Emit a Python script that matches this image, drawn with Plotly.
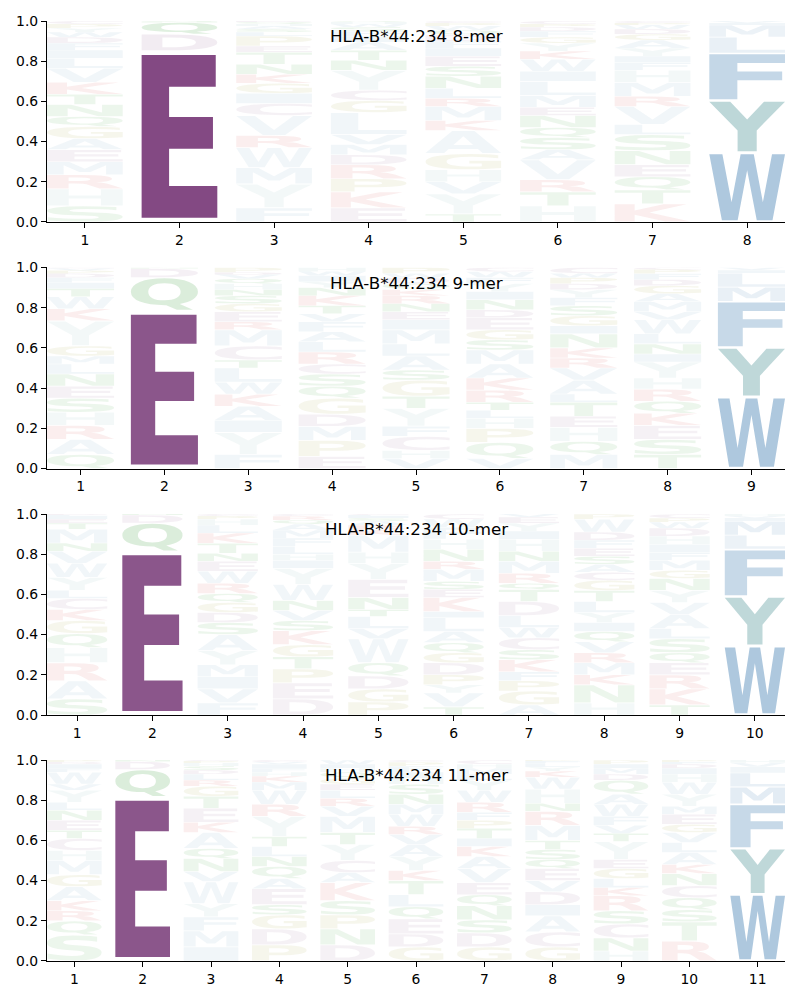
import glob, struct, subprocess
import plotly.graph_objects as go

# ---------------- data ----------------
ALLELE = "HLA-B*44:234"
LENGTHS = [8, 9, 10, 11]

# letters of each position, stacked bottom -> top, with their probabilities
LETTERS_8 = ["SHRMEAGQNTKVLIFDWYPC", "EDQNS", "FYMWRVCIGKNTEPLSAHQD", "EKPRDMVLGCYNTAIFSWHQ",
             "TYVHGAKMRLNSEIFDQWPC", "HTRVASQNEMLIWKYGFDPC", "KTQENSLVRMHFIYAGDWPC", "WYFLMIV"]
HEIGHTS_8 = [
    [.08, .085, .07, .065, .06, .055, .06, .05, .06, .05, .06, .07, .05, .04, .035, .03, .025, .02, .02, .015],
    [.852, .083, .058, .004, .003],
    [.07, .12, .08, .10, .06, .10, .06, .05, .05, .045, .05, .06, .03, .05, .02, .015, .015, .01, .01, .005],
    [.07, .08, .065, .07, .05, .05, .05, .11, .06, .05, .10, .05, .05, .04, .03, .025, .02, .015, .01, .005],
    [.04, .10, .06, .06, .08, .115, .05, .07, .04, .05, .06, .05, .05, .04, .035, .03, .025, .02, .015, .01],
    [.08, .07, .06, .10, .05, .06, .05, .06, .04, .06, .07, .05, .06, .04, .04, .03, .03, .02, .015, .015],
    [.09, .07, .065, .06, .07, .08, .05, .09, .05, .07, .06, .04, .03, .04, .04, .03, .025, .02, .01, .01],
    [.345, .26, .235, .08, .06, .01, .01],
]

LETTERS_9 = ["QARHSENLMGYKWTIFDPVC", "EQDN", "FYIAKWLTCMREGSNHQVDP", "EPMDGQSCRLAFVTKNYIWH",
             "VHCFYTGSALMIENRKQDWP", "VQPHLTRKAMSGEDNIYFWC", "MQHETLAVRKNIGSFYDPWC",
             "TSEKQRHYINLWVMAGDFPC", "WYFMLIV"]
HEIGHTS_9 = [
    [.07, .075, .07, .065, .07, .06, .06, .05, .04, .05, .125, .06, .06, .04, .03, .025, .02, .015, .01, .005],
    [.785, .165, .045, .005],
    [.07, .11, .06, .07, .06, .06, .07, .04, .07, .08, .04, .05, .04, .04, .03, .03, .025, .02, .01, .025],
    [.06, .08, .07, .06, .08, .06, .06, .05, .06, .05, .05, .05, .04, .04, .05, .04, .03, .03, .02, .02],
    [.05, .04, .07, .05, .09, .06, .08, .05, .07, .06, .07, .05, .04, .04, .04, .03, .03, .03, .02, .03],
    [.05, .08, .07, .05, .04, .04, .06, .06, .07, .07, .05, .05, .06, .04, .05, .04, .04, .03, .03, .02],
    [.07, .065, .07, .055, .07, .04, .07, .06, .05, .05, .07, .04, .05, .05, .04, .04, .03, .03, .02, .03],
    [.07, .075, .07, .06, .06, .06, .055, .08, .04, .05, .05, .07, .04, .05, .04, .04, .03, .03, .02, .01],
    [.357, .245, .23, .07, .07, .015, .013],
]

LETTERS_10 = ["SARHQGKCLYWVNMTEIFD", "EQDN", "FVIMYASDGQRWENTKLHPC", "DEPTGKSVNWYIHLFMAQRC",
              "PGDQWVLTNEYHMKRASIFC", "TVYPDGQALIKESMRNHFWC", "AGPFKSCWLDTQRMNHIYEV",
              "HNKMRVQIYLTGCASEFDWP", "TKREQSLAVYNGMFIHDWPC", "WYFLMIVH"]
HEIGHTS_10 = [
    [.08, .09, .09, .075, .07, .065, .055, .055, .04, .065, .07, .06, .04, .07, .03, .02, .015, .005, .005],
    [.815, .14, .04, .005],
    [.06, .07, .06, .06, .07, .08, .06, .05, .05, .045, .05, .06, .05, .04, .05, .05, .04, .03, .015, .01],
    [.08, .08, .07, .06, .06, .07, .05, .05, .05, .08, .08, .04, .03, .04, .04, .04, .03, .02, .02, .01],
    [.065, .065, .065, .065, .12, .05, .06, .035, .06, .09, .08, .055, .085, .03, .02, .02, .015, .01, .005, .005],
    [.04, .07, .04, .05, .06, .05, .05, .055, .07, .03, .07, .04, .04, .06, .04, .06, .05, .06, .04, .025],
    [.05, .07, .05, .045, .06, .05, .06, .05, .06, .07, .06, .03, .05, .06, .05, .06, .04, .04, .03, .015],
    [.06, .09, .05, .06, .05, .055, .05, .045, .05, .055, .055, .05, .04, .04, .04, .04, .04, .04, .065, .025],
    [.05, .08, .07, .06, .05, .07, .05, .07, .06, .06, .06, .04, .05, .04, .04, .04, .04, .03, .02, .02],
    [.345, .245, .235, .07, .07, .015, .01, .01],
]

LETTERS_11 = ["SQRKAGMHCTENLYVWFIDP", "EQDN", "IMFYWVNQAKETGRLDSHPC", "PDGSEAQNLTYRWMKHFIVC",
              "DNPSKACYTMVRLEGQHIW", "GDEQLTKYAVRWMNSHIFPC", "GDSNQEVAKITPFRWYLMHC",
              "GCAIDVEQSTMRNHWKYLFP", "HNCSRKLGEYTVFWAQDMIP", "RTSQCNKALVGEMYWHIDFP", "WYFMLIVH"]
HEIGHTS_11 = [
    [.13, .07, .05, .05, .07, .06, .07, .05, .06, .04, .05, .05, .04, .06, .03, .06, .02, .02, .01, .01],
    [.818, .135, .04, .007],
    [.07, .08, .07, .065, .11, .05, .065, .05, .08, .05, .07, .06, .05, .03, .03, .02, .02, .015, .01, .005],
    [.08, .08, .07, .05, .08, .05, .06, .05, .05, .05, .10, .06, .07, .04, .03, .02, .02, .02, .01, .01],
    [.08, .08, .07, .07, .09, .05, .06, .08, .06, .08, .05, .04, .04, .03, .03, .03, .02, .02, .02],
    [.07, .065, .075, .06, .06, .07, .05, .07, .06, .05, .04, .06, .05, .05, .05, .03, .03, .03, .02, .01],
    [.07, .07, .065, .07, .055, .06, .07, .06, .05, .04, .05, .04, .04, .05, .06, .05, .03, .03, .02, .02],
    [.07, .075, .08, .055, .065, .055, .06, .045, .05, .045, .075, .07, .04, .07, .06, .03, .02, .02, .01, .005],
    [.05, .065, .07, .065, .075, .04, .045, .05, .045, .09, .04, .04, .045, .06, .05, .07, .03, .03, .02, .02],
    [.10, .095, .06, .06, .06, .06, .045, .06, .05, .05, .04, .05, .04, .06, .06, .04, .03, .02, .01, .01],
    [.333, .228, .22, .085, .07, .03, .02, .014],
]

LOGOS = {8: (LETTERS_8, HEIGHTS_8), 9: (LETTERS_9, HEIGHTS_9),
         10: (LETTERS_10, HEIGHTS_10), 11: (LETTERS_11, HEIGHTS_11)}

# ---------------- style ----------------
BASE = {}
for aa in "DEC":
    BASE[aa] = (125, 65, 125)
for aa in "QNST":
    BASE[aa] = (0, 128, 0)
for aa in "GP":
    BASE[aa] = (128, 128, 0)
for aa in "KR":
    BASE[aa] = (200, 30, 30)
for aa in "HY":
    BASE[aa] = (95, 158, 160)
for aa in "AVLIMFW":
    BASE[aa] = (70, 130, 180)
FAINT = 0.075
ALPHA = {
    (8, 2, 'E'): .955, (8, 2, 'D'): .10, (8, 2, 'Q'): .12,
    (8, 8, 'W'): .44, (8, 8, 'Y'): .41, (8, 8, 'F'): .32, (8, 8, 'L'): .12, (8, 8, 'M'): .10,
    (9, 2, 'E'): .89, (9, 2, 'Q'): .14, (9, 2, 'D'): .08,
    (9, 9, 'W'): .44, (9, 9, 'Y'): .40, (9, 9, 'F'): .30, (9, 9, 'M'): .12, (9, 9, 'L'): .10,
    (10, 2, 'E'): .89, (10, 2, 'Q'): .14, (10, 2, 'D'): .08,
    (10, 10, 'W'): .44, (10, 10, 'Y'): .40, (10, 10, 'F'): .30, (10, 10, 'M'): .12, (10, 10, 'L'): .10,
    (11, 2, 'E'): .89, (11, 2, 'Q'): .14, (11, 2, 'D'): .08,
    (11, 11, 'W'): .44, (11, 11, 'Y'): .40, (11, 11, 'F'): .30, (11, 11, 'M'): .15, (11, 11, 'L'): .12,
}
GLYPH_W = 0.8
VPAD = 0.05
YDOMAINS = [[0.7862, 1.0], [0.5239, 0.7378], [0.2617, 0.4755], [0.0, 0.2138]]
FONT = "DejaVu Sans"


# ---------------- glyph outlines from the installed font ----------------
def find_font():
    pats = ["/usr/share/fonts/**/DejaVuSans-Bold.ttf", "/usr/local/share/fonts/**/DejaVuSans-Bold.ttf",
            "/usr/share/fonts/**/LiberationSans-Bold.ttf"]
    for p in pats:
        c = glob.glob(p, recursive=True)
        if c:
            return c[0]
    try:
        out = subprocess.run(["fc-match", "-f", "%{file}", "DejaVu Sans:bold"],
                             capture_output=True, text=True).stdout.strip()
        if out.lower().endswith(".ttf"):
            return out
    except Exception:
        pass
    return None


class TTF:
    def __init__(self, path):
        d = open(path, "rb").read()
        self.d = d
        off0 = struct.unpack(">I", d[12:16])[0] if d[:4] == b"ttcf" else 0
        nt = struct.unpack(">H", d[off0 + 4:off0 + 6])[0]
        self.t = {}
        for i in range(nt):
            rec = off0 + 12 + 16 * i
            tag = d[rec:rec + 4].decode("latin1")
            o = struct.unpack(">I", d[rec + 8:rec + 12])[0]
            self.t[tag] = o
        head = self.t["head"]
        locfmt = struct.unpack(">h", d[head + 50:head + 52])[0]
        mp = self.t["maxp"]
        ng = struct.unpack(">H", d[mp + 4:mp + 6])[0]
        lo = self.t["loca"]
        if locfmt == 0:
            self.loca = [2 * v for v in struct.unpack(">%dH" % (ng + 1), d[lo:lo + 2 * (ng + 1)])]
        else:
            self.loca = list(struct.unpack(">%dI" % (ng + 1), d[lo:lo + 4 * (ng + 1)]))
        cm = self.t["cmap"]
        n = struct.unpack(">H", d[cm + 2:cm + 4])[0]
        sub = None
        for i in range(n):
            pid, eid, o = struct.unpack(">HHI", d[cm + 4 + 8 * i:cm + 12 + 8 * i])
            fmt = struct.unpack(">H", d[cm + o:cm + o + 2])[0]
            if fmt == 4:
                sub = cm + o
                if pid == 3 and eid == 1:
                    break
        segx2 = struct.unpack(">H", d[sub + 6:sub + 8])[0]
        segs = segx2 // 2
        self.ends = struct.unpack(">%dH" % segs, d[sub + 14:sub + 14 + segx2])
        self.starts = struct.unpack(">%dH" % segs, d[sub + 16 + segx2:sub + 16 + 2 * segx2])
        self.deltas = struct.unpack(">%dh" % segs, d[sub + 16 + 2 * segx2:sub + 16 + 3 * segx2])
        self.rpos = sub + 16 + 3 * segx2
        self.roffs = struct.unpack(">%dH" % segs, d[self.rpos:self.rpos + segx2])

    def gid(self, ch):
        c = ord(ch)
        for i in range(len(self.ends)):
            if self.starts[i] <= c <= self.ends[i]:
                if self.roffs[i] == 0:
                    return (c + self.deltas[i]) & 0xFFFF
                a = self.rpos + 2 * i + self.roffs[i] + 2 * (c - self.starts[i])
                g = struct.unpack(">H", self.d[a:a + 2])[0]
                return (g + self.deltas[i]) & 0xFFFF if g else 0
        return 0

    def contours(self, g):
        d = self.d
        o = self.t["glyf"] + self.loca[g]
        if self.loca[g + 1] == self.loca[g]:
            return []
        nc = struct.unpack(">h", d[o:o + 2])[0]
        if nc >= 0:
            ends = struct.unpack(">%dH" % nc, d[o + 10:o + 10 + 2 * nc])
            p = o + 10 + 2 * nc
            il = struct.unpack(">H", d[p:p + 2])[0]
            p += 2 + il
            npt = ends[-1] + 1 if nc else 0
            flags = []
            while len(flags) < npt:
                f = d[p]; p += 1
                flags.append(f)
                if f & 8:
                    r = d[p]; p += 1
                    flags.extend([f] * r)
            flags = flags[:npt]
            xs, v = [], 0
            for f in flags:
                if f & 2:
                    dv = d[p]; p += 1
                    v += dv if f & 16 else -dv
                elif not f & 16:
                    v += struct.unpack(">h", d[p:p + 2])[0]; p += 2
                xs.append(v)
            ys, v = [], 0
            for f in flags:
                if f & 4:
                    dv = d[p]; p += 1
                    v += dv if f & 32 else -dv
                elif not f & 32:
                    v += struct.unpack(">h", d[p:p + 2])[0]; p += 2
                ys.append(v)
            res, s = [], 0
            for e in ends:
                res.append([(xs[k], ys[k], flags[k] & 1) for k in range(s, e + 1)])
                s = e + 1
            return res
        res = []
        p = o + 10
        while True:
            fl, gi = struct.unpack(">HH", d[p:p + 4]); p += 4
            if fl & 1:
                dx, dy = struct.unpack(">hh", d[p:p + 4]); p += 4
            else:
                dx, dy = struct.unpack(">bb", d[p:p + 2]); p += 2
            a, b, c2, dd = 1, 0, 0, 1
            if fl & 8:
                a = dd = struct.unpack(">h", d[p:p + 2])[0] / 16384; p += 2
            elif fl & 0x40:
                a, dd = [q / 16384 for q in struct.unpack(">hh", d[p:p + 4])]; p += 4
            elif fl & 0x80:
                a, b, c2, dd = [q / 16384 for q in struct.unpack(">hhhh", d[p:p + 8])]; p += 8
            for cnt in self.contours(gi):
                res.append([(a * x + c2 * y + dx, b * x + dd * y + dy, on) for x, y, on in cnt])
            if not fl & 0x20:
                break
        return res


def contour_ops(pts):
    if not pts:
        return []
    start = next((i for i, q in enumerate(pts) if q[2]), None)
    if start is None:
        a, b = pts[-1], pts[0]
        pts = [((a[0] + b[0]) / 2, (a[1] + b[1]) / 2, 1)] + pts
    else:
        pts = pts[start:] + pts[:start]
    ops = [("M", (pts[0][0], pts[0][1]))]
    prev = None
    for q in pts[1:] + [pts[0]]:
        xy = (q[0], q[1])
        if q[2]:
            if prev is None:
                ops.append(("L", xy))
            else:
                ops.append(("Q", prev, xy)); prev = None
        else:
            if prev is None:
                prev = xy
            else:
                mid = ((prev[0] + xy[0]) / 2, (prev[1] + xy[1]) / 2)
                ops.append(("Q", prev, mid)); prev = xy
    ops.append(("Z",))
    return ops


def normalized_glyph(font, ch):
    ops = []
    for c in font.contours(font.gid(ch)):
        ops += contour_ops(c)
    xs, ys, cur = [], [], None
    for op in ops:
        if op[0] in ("M", "L"):
            cur = op[1]; xs.append(cur[0]); ys.append(cur[1])
        elif op[0] == "Q":
            c, e = op[1], op[2]
            for k in range(1, 17):
                t = k / 16
                xs.append((1 - t) ** 2 * cur[0] + 2 * (1 - t) * t * c[0] + t * t * e[0])
                ys.append((1 - t) ** 2 * cur[1] + 2 * (1 - t) * t * c[1] + t * t * e[1])
            cur = e
    x0, x1, y0, y1 = min(xs), max(xs), min(ys), max(ys)
    nx = lambda p: ((p[0] - x0) / (x1 - x0), (p[1] - y0) / (y1 - y0))
    out = []
    for op in ops:
        if op[0] in ("M", "L"):
            out.append((op[0], nx(op[1])))
        elif op[0] == "Q":
            out.append(("Q", nx(op[1]), nx(op[2])))
        else:
            out.append(("Z",))
    return out


FONT_PATH = find_font()
TT = TTF(FONT_PATH) if FONT_PATH else None
GLYPHS = {}


def glyph_path(ch, xc, y0, h):
    if TT is None:
        return "M %f,%f L %f,%f L %f,%f L %f,%f Z" % (xc - GLYPH_W / 2, y0, xc + GLYPH_W / 2, y0,
                                                       xc + GLYPH_W / 2, y0 + h, xc - GLYPH_W / 2, y0 + h)
    if ch not in GLYPHS:
        GLYPHS[ch] = normalized_glyph(TT, ch)
    tx = lambda p: "%.5f,%.5f" % (xc - GLYPH_W / 2 + p[0] * GLYPH_W, y0 + p[1] * h)
    parts = []
    for op in GLYPHS[ch]:
        if op[0] in ("M", "L"):
            parts.append("%s%s" % (op[0], tx(op[1])))
        elif op[0] == "Q":
            parts.append("Q%s %s" % (tx(op[1]), tx(op[2])))
        else:
            parts.append("Z")
    return " ".join(parts)


# ---------------- figure ----------------
fig = go.Figure()
shapes, annotations = [], []
for i, L in enumerate(LENGTHS):
    sfx = "" if i == 0 else str(i + 1)
    letters, heights = LOGOS[L]
    for pos, (lets, hs) in enumerate(zip(letters, heights), start=1):
        ybase = 0.0
        for ch, f in zip(lets, hs):
            if f <= 0:
                continue
            a = ALPHA.get((L, pos, ch), FAINT)
            r, g, b = BASE[ch]
            shapes.append(dict(
                type="path", xref="x" + sfx, yref="y" + sfx, layer="below",
                path=glyph_path(ch, pos, ybase + f * VPAD / 2, f * (1 - VPAD)),
                fillcolor="rgba(%d,%d,%d,%.3f)" % (r, g, b, a), line=dict(width=0)))
            ybase += f
    fig.add_trace(go.Scatter(x=[], y=[], xaxis="x" + sfx, yaxis="y" + sfx,
                             showlegend=False, hoverinfo="skip"))
    axis_style = dict(showline=True, linecolor="black", linewidth=1.1, ticks="outside",
                      ticklen=5, tickwidth=1.1, tickcolor="black", showgrid=False, zeroline=False,
                      tickfont=dict(family=FONT, size=13.9, color="black"), fixedrange=True)
    fig.layout["xaxis" + sfx] = dict(domain=[0, 1], range=[0.6, L + 0.4], anchor="y" + sfx,
                                     tickmode="array", tickvals=list(range(1, L + 1)),
                                     ticktext=[str(v) for v in range(1, L + 1)], **axis_style)
    fig.layout["yaxis" + sfx] = dict(domain=YDOMAINS[i], range=[0, 1], anchor="x" + sfx,
                                     tickmode="array", tickvals=[0, 0.2, 0.4, 0.6, 0.8, 1.0],
                                     tickformat=".1f", **axis_style)
    annotations.append(dict(text="%s %d-mer" % (ALLELE, L), xref="x" + sfx + " domain", x=0.5,
                            yref="y" + sfx, y=0.925, xanchor="center", yanchor="middle",
                            showarrow=False, font=dict(family=FONT, size=16.7, color="black")))

fig.update_layout(width=800, height=1000, margin=dict(l=47, r=15, t=21, b=39),
                  paper_bgcolor="white", plot_bgcolor="white",
                  shapes=shapes, annotations=annotations, showlegend=False)
fig.write_html("out.html")
